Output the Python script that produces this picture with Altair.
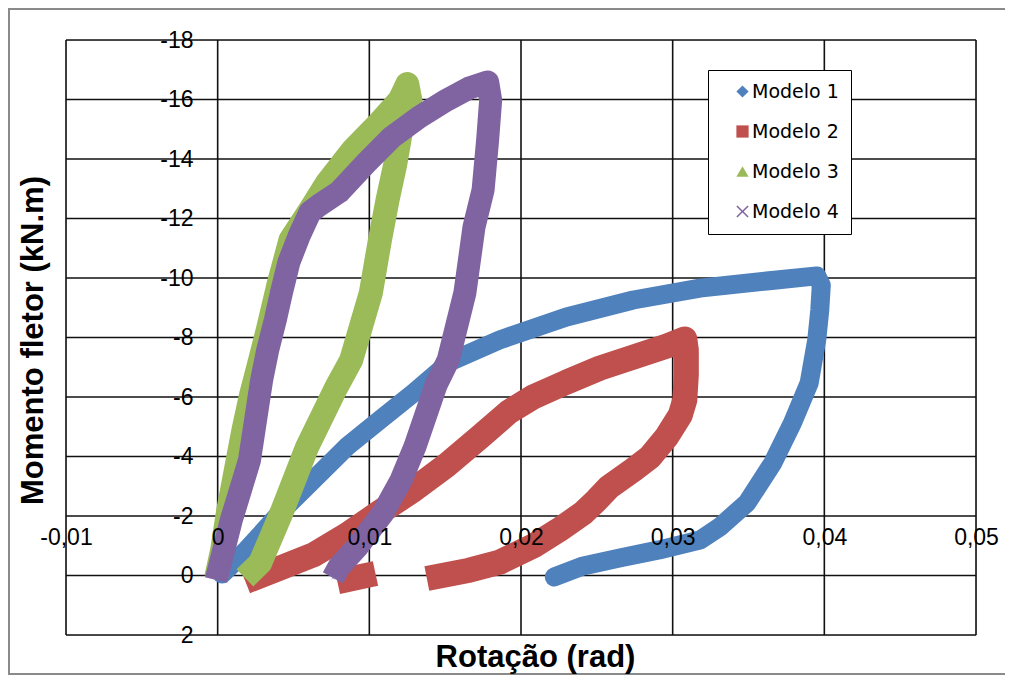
import json
import altair as alt
import pandas as pd

# ---------------- data ----------------
models = ["Modelo 1", "Modelo 2", "Modelo 3", "Modelo 4"]
colors = ["#4F81BD", "#C0504D", "#9BBB59", "#8064A2"]
x_shape = "M-1,-0.82L-0.82,-1L0,-0.18L0.82,-1L1,-0.82L0.18,0L1,0.82L0.82,1L0,0.18L-0.82,1L-1,0.82L-0.18,0Z"
shapes = ["diamond", "square", "triangle-up", x_shape]

m1_x = [0.0003, 0.0011, 0.0019, 0.0031, 0.0041, 0.0063, 0.0085, 0.0107, 0.0129, 0.0153,
        0.0186, 0.0230, 0.0274, 0.0318, 0.0362, 0.0395, 0.0398, 0.0397, 0.0395, 0.0390,
        0.0379, 0.0366, 0.0349, 0.0331, 0.0318, 0.0291, 0.0265, 0.0241, 0.0222]
m1_y = [-0.05, -0.45, -0.86, -1.53, -2.10, -3.21, -4.32, -5.23, -6.13, -7.18,
        -7.92, -8.69, -9.26, -9.66, -9.90, -10.07, -9.76, -8.92, -7.92, -6.47,
        -5.13, -3.78, -2.44, -1.63, -1.19, -0.86, -0.59, -0.32, 0.05]

m2_x = [0.0026, 0.0041, 0.0063, 0.0085, 0.0107, 0.0129, 0.0151, 0.0173, 0.0192, 0.0208,
        0.0230, 0.0252, 0.0274, 0.0296, 0.0308, 0.0309, 0.0309, 0.0308, 0.0305, 0.0296,
        0.0285, 0.0274, 0.0258, 0.0250, 0.0241, 0.0225, 0.0208, 0.0186, 0.0166, 0.0146]
m2_y = [0.05, -0.25, -0.69, -1.36, -2.13, -2.87, -3.71, -4.66, -5.50, -6.00,
        -6.50, -6.97, -7.34, -7.71, -7.95, -7.58, -6.74, -5.90, -5.39, -4.66,
        -3.98, -3.55, -2.97, -2.54, -2.10, -1.53, -0.99, -0.45, -0.18, 0.02]
m2b_x = [0.0087, 0.0096]
m2b_y = [0.12, 0.02]

m3_x = [-0.0001, 0.0003, 0.0007, 0.0012, 0.0017, 0.0022, 0.0028, 0.0033, 0.0040, 0.0048,
        0.0061, 0.0072, 0.0089, 0.0107, 0.0120, 0.0125, 0.0127, 0.0121, 0.0117, 0.0112,
        0.0107, 0.0101, 0.0088, 0.0078, 0.0059, 0.0042, 0.0028, 0.0018]
m3_y = [0.08, -0.86, -2.20, -3.55, -4.89, -6.07, -7.24, -8.25, -9.76, -11.28,
        -12.29, -13.19, -14.30, -15.24, -15.98, -16.52, -15.98, -14.97, -13.80, -12.62,
        -11.28, -9.50, -7.24, -6.30, -4.32, -2.10, -0.42, 0.08]

m4_x = [-0.0001, 0.0004, 0.0009, 0.0015, 0.0021, 0.0025, 0.0029, 0.0033, 0.0038, 0.0042,
        0.0047, 0.0054, 0.0061, 0.0067, 0.0080, 0.0098, 0.0115, 0.0133, 0.0151, 0.0166,
        0.0178, 0.0180, 0.0178, 0.0175, 0.0169, 0.0163, 0.0152, 0.0144, 0.0130, 0.0121,
        0.0109, 0.0092, 0.0080, 0.0076]
m4_y = [0.15, -0.86, -1.87, -2.87, -3.88, -5.23, -6.57, -7.58, -8.59, -9.50,
        -10.54, -11.45, -12.22, -12.45, -12.89, -13.87, -14.74, -15.41, -15.98, -16.39,
        -16.59, -15.98, -14.64, -12.96, -11.71, -9.50, -7.24, -6.40, -4.32, -3.21,
        -2.10, -0.96, -0.29, 0.08]

x_ticks = [-0.01, 0, 0.01, 0.02, 0.03, 0.04, 0.05]
x_tick_labels = ["-0,01", "0", "0,01", "0,02", "0,03", "0,04", "0,05"]
y_ticks = [-18, -16, -14, -12, -10, -8, -6, -4, -2, 0, 2]
y_tick_labels = ["-18", "-16", "-14", "-12", "-10", "-8", "-6", "-4", "-2", "0", "2"]

# ---------------- table ----------------
rows = []
def add(model, seg, xs, ys):
    for i, (xv, yv) in enumerate(zip(xs, ys)):
        rows.append({"model": model, "seg": seg, "idx": i, "rot": xv, "mom": yv})

add(models[0], "a", m1_x, m1_y)
add(models[1], "a", m2_x, m2_y)
add(models[1], "b", m2b_x, m2b_y)
add(models[2], "a", m3_x, m3_y)
add(models[3], "a", m4_x, m4_y)
df = pd.DataFrame(rows)

FONT = "Liberation Sans, Arial, sans-serif"
xs = alt.Scale(domain=[-0.01, 0.05], nice=False, zero=False)
ys = alt.Scale(domain=[-18, 2], reverse=True, nice=False, zero=False)

x_axis = alt.Axis(
    values=x_ticks,
    labelExpr=json.dumps(x_tick_labels) + "[round((datum.value + 0.01) * 100)]",
    grid=False, ticks=False, tickSize=0, domain=False,
    labelPadding=0, offset=-98, labelBaseline="middle",
    labelFont=FONT, labelFontSize=23, labelColor="black",
    labelFlush=False, labelOverlap=False,
    title="Rotação (rad)", titleFont=FONT, titleFontSize=31, titleFontWeight="bold",
    titleColor="black", titleX=469, titleY=120, titleBaseline="middle", zindex=1,
)
y_axis = alt.Axis(
    values=y_ticks,
    labelExpr=json.dumps(y_tick_labels) + "[round((datum.value + 18) / 2)]",
    grid=False, ticks=False, tickSize=0, domain=False,
    labelPadding=0, offset=-127, labelBaseline="middle",
    labelFont=FONT, labelFontSize=23, labelColor="black",
    labelFlush=False, labelOverlap=False,
    title="Momento fletor (kN.m)", titleFont=FONT, titleFontSize=31, titleFontWeight="bold",
    titleColor="black", titleX=-160, titleY=300, titleAngle=270, titleBaseline="middle", zindex=1,
)

X = lambda f: alt.X(f, scale=xs, axis=x_axis)
Y = lambda f: alt.Y(f, scale=ys, axis=y_axis)

# grid lines from tick arrays
vgrid = alt.Chart(pd.DataFrame({"rot": x_ticks})).mark_rule(color="#111", strokeWidth=1.6).encode(
    x=X("rot:Q"))
hgrid = alt.Chart(pd.DataFrame({"mom": y_ticks})).mark_rule(color="#111", strokeWidth=1.6).encode(
    y=Y("mom:Q"))

leg = alt.Legend(
    title=None, orient="none", legendX=642, legendY=30,
    strokeColor="black", fillColor="white", padding=12,
    labelFont="DejaVu Sans", labelFontSize=19, labelColor="black",
    symbolSize=150, symbolStrokeWidth=0, rowPadding=20,
    symbolOffset=13, labelOffset=0,
)

points = alt.Chart(df).mark_point(filled=True, size=10, opacity=1).encode(
    x=X("rot:Q"),
    y=Y("mom:Q"),
    color=alt.Color("model:N", scale=alt.Scale(domain=models, range=colors), legend=leg),
    shape=alt.Shape("model:N", scale=alt.Scale(domain=models, range=shapes), legend=leg),
)

widths = [19, 25, 24, 23]
caps = ["round", "square", "butt", "butt"]
lines = []
for i, m in enumerate(models):
    lines.append(
        alt.Chart(df).transform_filter(alt.datum.model == m).mark_line(
            color=colors[i], strokeWidth=widths[i], strokeCap=caps[i], strokeJoin="round"
        ).encode(
            x=X("rot:Q"),
            y=Y("mom:Q"),
            order="idx:Q",
            detail="seg:N",
        )
    )

frame = alt.Chart(pd.DataFrame({"a": [0]})).mark_rect(
    fillOpacity=0, stroke="#8a8a8a", strokeWidth=2
).encode(x=alt.value(-57), x2=alt.value(950), y=alt.value(-31), y2=alt.value(634))

chart = alt.layer(vgrid, hgrid, points, *lines, frame).properties(
    width=910, height=595,
    autosize=alt.AutoSizeParams(type="none"),
    padding={"left": 58, "top": 32, "right": 29, "bottom": 40},
).configure_view(stroke="#111", strokeWidth=1.6).configure(background="white")

chart.save("out.html", embed_options={"renderer": "svg", "actions": False})
